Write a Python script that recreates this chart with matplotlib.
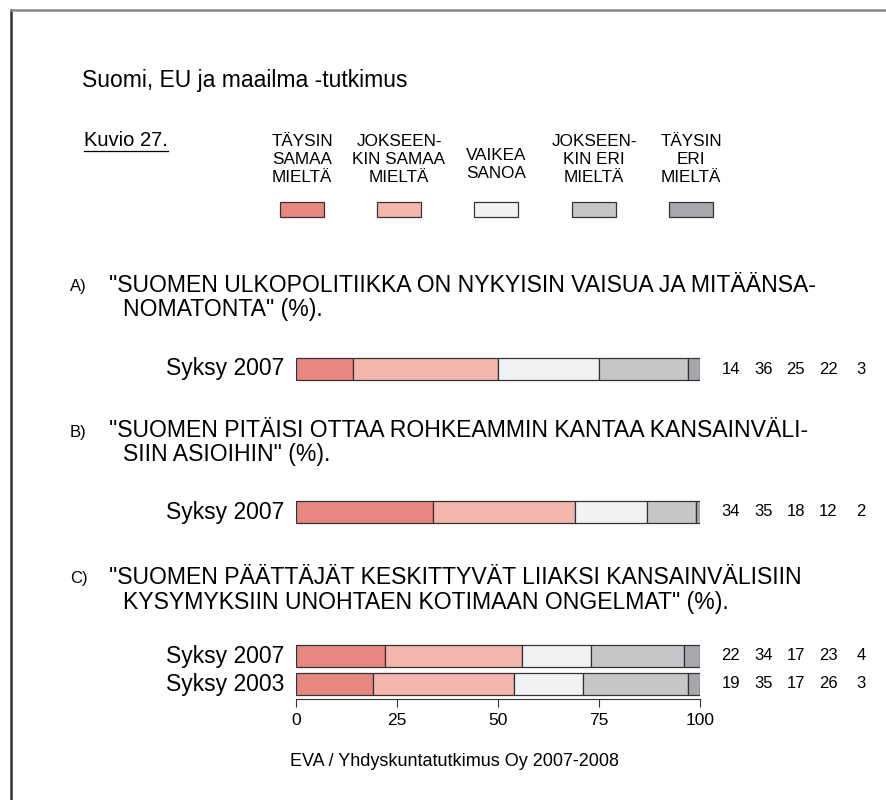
import matplotlib
matplotlib.use('Agg')
import matplotlib.pyplot as plt
from matplotlib.lines import Line2D
from matplotlib.patches import Rectangle

plt.rcParams['font.family'] = ['Liberation Sans', 'DejaVu Sans']

# Data
categories = ['TÄYSIN\nSAMAA\nMIELTÄ', 'JOKSEEN-\nKIN SAMAA\nMIELTÄ', 'VAIKEA\nSANOA',
              'JOKSEEN-\nKIN ERI\nMIELTÄ', 'TÄYSIN\nERI\nMIELTÄ']
colors = ['#E8877F', '#F4B6AD', '#F1F2F4', '#C5C6C8', '#A6A7AA']

questions = [
    ('A)', '"SUOMEN ULKOPOLITIIKKA ON NYKYISIN VAISUA JA MITÄÄNSA-', 'NOMATONTA" (%).'),
    ('B)', '"SUOMEN PITÄISI OTTAA ROHKEAMMIN KANTAA KANSAINVÄLI-', 'SIIN ASIOIHIN" (%).'),
    ('C)', '"SUOMEN PÄÄTTÄJÄT KESKITTYVÄT LIIAKSI KANSAINVÄLISIIN', 'KYSYMYKSIIN UNOHTAEN KOTIMAAN ONGELMAT" (%).'),
]
row_labels = ['Syksy 2007', 'Syksy 2007', 'Syksy 2007', 'Syksy 2003']
a_2007 = [14, 36, 25, 22, 3]
b_2007 = [34, 35, 18, 12, 2]
c_2007 = [22, 34, 17, 23, 4]
c_2003 = [19, 35, 17, 26, 3]
rows = [a_2007, b_2007, c_2007, c_2003]
ticks = [0, 25, 50, 75, 100]

W, H = 887, 800
fig = plt.figure(figsize=(W / 100, H / 100), dpi=100)


def fx(px):
    return px / W


def fy(py):
    return 1 - py / H


# kehys
fig.add_artist(Line2D([fx(11), fx(11)], [fy(800), fy(10)], color='#333333', lw=1.8))
fig.add_artist(Line2D([fx(11), fx(887)], [fy(10), fy(10)], color='#888888', lw=1.8))

fig.text(fx(82), fy(80), 'Suomi, EU ja maailma -tutkimus', fontsize=16.5, va='center')
kuv = fig.text(fx(84), fy(140), 'Kuvio 27.', fontsize=14.5, va='center')
fig.canvas.draw()
bb = kuv.get_window_extent()
fig.add_artist(Line2D([bb.x0 / W, bb.x1 / W], [fy(151), fy(151)], color='black', lw=0.9))

# selite
leg_x = [302, 399, 496, 594, 691]
for cx, lab, col in zip(leg_x, categories, colors):
    cy = 159 if lab.count('\n') == 2 else 164
    fig.text(fx(cx), fy(cy), lab, fontsize=12.3, ha='center', va='center',
             multialignment='center', linespacing=1.25)
    fig.add_artist(Rectangle((fx(cx - 22), fy(217)), 44 / W, 15 / H, facecolor=col,
                             edgecolor='#333333', lw=0.9, transform=fig.transFigure))

# kysymykset
q_y = [286, 431, 578]
for (lt, l1, l2), y in zip(questions, q_y):
    fig.text(fx(70), fy(y + 1), lt, fontsize=12, va='center')
    fig.text(fx(109), fy(y), l1, fontsize=16.6, va='center')
    fig.text(fx(123), fy(y + 24), l2, fontsize=16.6, va='center')

# palkit
ax = fig.add_axes([fx(296), fy(699), fx(700) - fx(296), fy(340) - fy(699)])
ax.set_xlim(0, 100)
ax.set_ylim(699, 340)
row_y = [369, 512, 656, 684]
for y, vals, lab in zip(row_y, rows, row_labels):
    left = 0
    for v, col in zip(vals, colors):
        ax.barh(y, v, left=left, height=22, color=col, edgecolor='#333333', linewidth=0.9)
        left += v
    ax.text(-3, y, lab, fontsize=16.5, ha='right', va='center')
    for i, v in enumerate(vals):
        ax.text(107.6 + 8.05 * i, y, str(v), fontsize=12, ha='center', va='center', clip_on=False)

for s in ['left', 'right', 'top']:
    ax.spines[s].set_visible(False)
ax.spines['bottom'].set_color('#333333')
ax.set_yticks([])
ax.set_xticks(ticks)
ax.tick_params(axis='x', length=6, labelsize=12.5, pad=4, color='#333333')
ax.patch.set_alpha(0)

fig.text(fx(455), fy(761), 'EVA / Yhdyskuntatutkimus Oy 2007-2008', fontsize=13, ha='center', va='center')

fig.savefig('out.png', dpi=100, facecolor='white')
